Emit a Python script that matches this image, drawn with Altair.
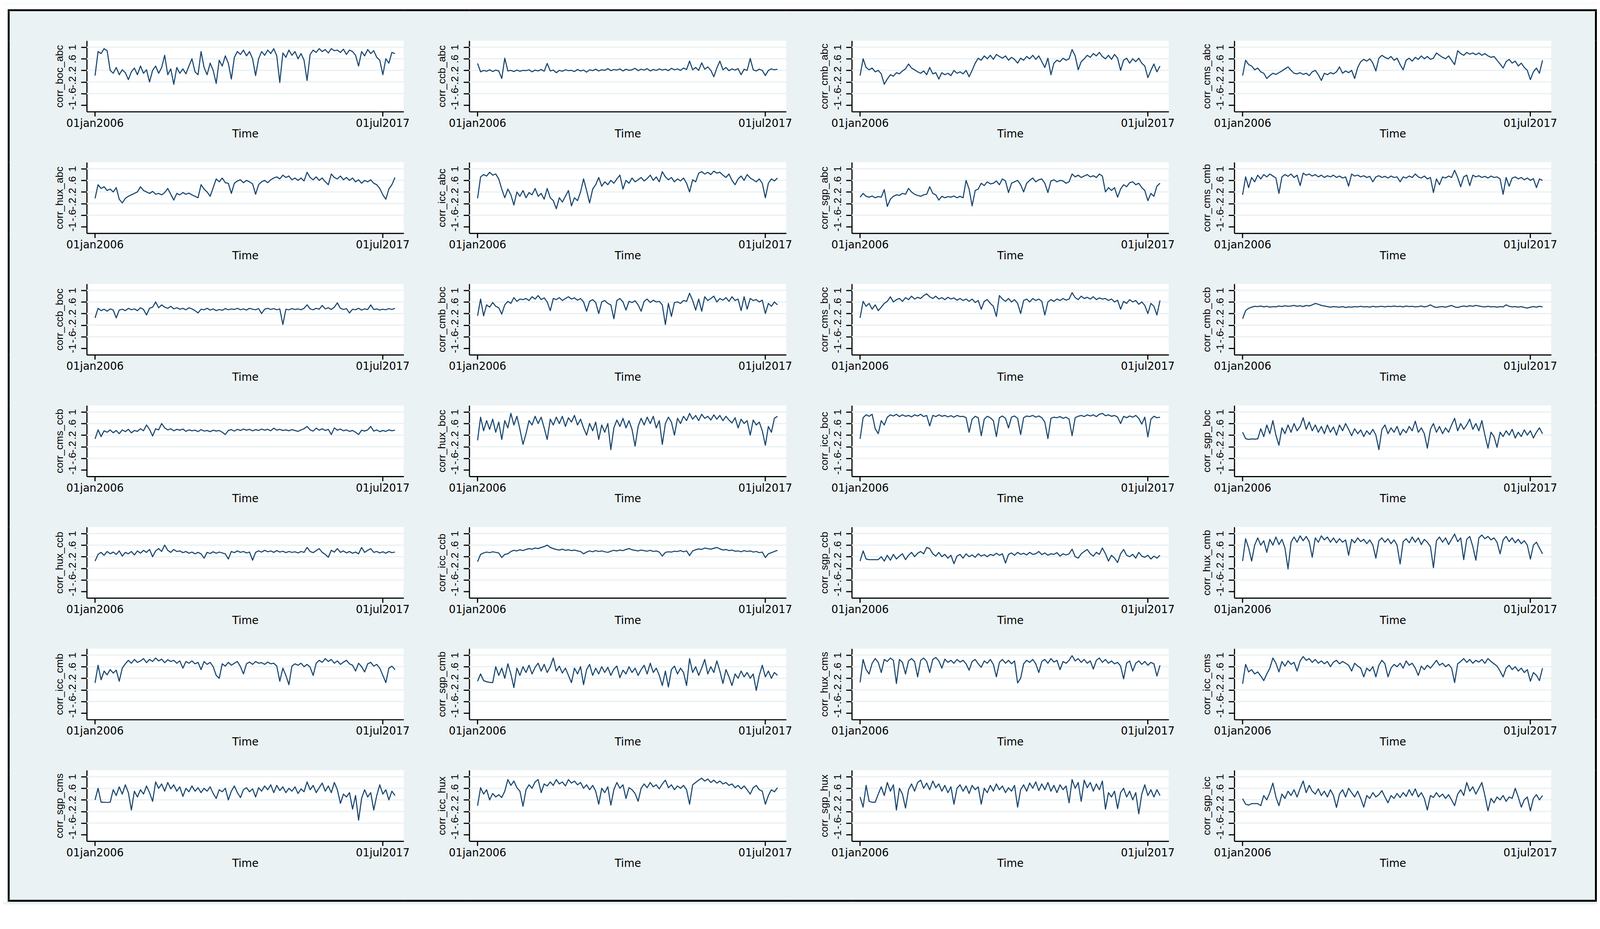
import altair as alt
import pandas as pd

BG = "#EAF2F3"
NAVY = "#1A476F"

# ---------------- data (100 points per series) ----------------
corr_boc_abc = [0.02, 0.85, 0.78, 0.95, 0.88, 0.2, 0.1, 0.3, 0.05, 0.22,
                0.12, -0.12, 0.15, 0.28, 0.05, 0.35, 0.1, 0.22, -0.2, 0.2,
                0.35, 0.1, 0.3, 0.72, 0.05, 0.25, -0.28, 0.3, 0.1, 0.25,
                0.08, 0.35, 0.6, 0.15, 0.05, 0.85, 0.3, 0.05, 0.45, 0.2,
                -0.25, 0.55, 0.35, 0.7, 0.45, -0.1, 0.65, 0.85, 0.75, 0.9,
                0.7, 0.85, 0.6, 0.02, 0.6, 0.85, 0.72, 0.9, 0.78, 0.95,
                0.7, -0.22, 0.8, 0.65, 0.9, 0.72, 0.85, 0.6, 0.78, 0.55,
                -0.15, 0.75, 0.9, 0.82, 0.95, 0.85, 0.92, 0.8, 0.95, 0.88,
                0.9, 0.82, 0.93, 0.75, 0.9, 0.85, 0.72, 0.35, 0.85, 0.7,
                0.92, 0.78, 0.88, 0.65, 0.55, 0.05, 0.6, 0.45, 0.82, 0.78]
corr_ccb_abc = [0.44, 0.15, 0.2, 0.17, 0.22, 0.16, 0.21, 0.18, -0.08, 0.62,
                0.18, 0.2, 0.16, 0.21, 0.17, 0.2, 0.19, 0.22, 0.15, 0.21,
                0.18, 0.23, 0.17, 0.44, 0.18, 0.21, 0.12, 0.2, 0.17, 0.22,
                0.19, 0.2, 0.16, 0.23, 0.18, 0.21, 0.14, 0.22, 0.19, 0.24,
                0.18, 0.22, 0.2, 0.26, 0.19, 0.23, 0.21, 0.25, 0.18, 0.24,
                0.2, 0.22, 0.27, 0.19, 0.24, 0.21, 0.26, 0.18, 0.23, 0.2,
                0.25, 0.21, 0.24, 0.19, 0.27, 0.22, 0.25, 0.2, 0.28, 0.23,
                0.52, 0.22, 0.3, 0.2, 0.46, 0.24, 0.32, 0.2, -0.02, 0.28,
                0.52, 0.22, 0.3, 0.19, 0.25, 0.21, 0.26, 0.05, 0.24, 0.2,
                0.61, 0.22, 0.18, 0.24, 0.2, 0.02, 0.2, 0.25, 0.22, 0.24]
corr_cmb_abc = [0.02, 0.6, 0.3, 0.22, 0.28, 0.15, 0.2, 0.08, -0.28, -0.1,
                0.05, 0.0, 0.12, 0.08, 0.18, 0.25, 0.42, 0.28, 0.22, 0.15,
                0.1, 0.18, 0.05, 0.3, 0.08, 0.12, -0.1, 0.12, 0.05, 0.1,
                0.02, 0.2, 0.1, 0.15, 0.08, 0.2, -0.02, 0.2, 0.45, 0.62,
                0.55, 0.7, 0.6, 0.72, 0.58, 0.75, 0.68, 0.62, 0.7, 0.55,
                0.65, 0.58, 0.45, 0.62, 0.55, 0.68, 0.6, 0.72, 0.58, 0.7,
                0.5, 0.3, 0.62, 0.05, 0.45, 0.55, 0.5, 0.62, 0.55, 0.6,
                0.92, 0.7, 0.22, 0.5, 0.6, 0.72, 0.65, 0.78, 0.7, 0.82,
                0.68, 0.6, 0.72, 0.58, 0.75, 0.62, 0.2, 0.55, 0.62, 0.45,
                0.6, 0.5, 0.62, 0.45, 0.35, -0.05, 0.2, 0.42, 0.15, 0.35]
corr_cms_abc = [0.02, 0.55, 0.4, 0.35, 0.22, 0.28, 0.15, 0.1, -0.08, 0.02,
                0.1, 0.06, 0.12, 0.18, 0.25, 0.32, 0.2, 0.1, 0.08, 0.12,
                0.06, 0.1, 0.02, 0.15, 0.2, 0.05, -0.15, 0.1, 0.05, 0.12,
                0.08, 0.15, 0.32, 0.1, 0.18, 0.12, 0.2, -0.08, 0.3, 0.5,
                0.58, 0.52, 0.6, 0.45, 0.18, 0.62, 0.72, 0.65, 0.6, 0.68,
                0.55, 0.62, 0.4, 0.22, 0.55, 0.62, 0.52, 0.65, 0.58, 0.7,
                0.6, 0.68, 0.58, 0.62, 0.8, 0.72, 0.65, 0.6, 0.7, 0.55,
                0.4, 0.88, 0.78, 0.72, 0.82, 0.76, 0.8, 0.74, 0.8, 0.72,
                0.78, 0.7, 0.65, 0.68, 0.55, 0.42, 0.28, 0.5, 0.58, 0.45,
                0.52, 0.35, 0.45, 0.3, 0.2, -0.12, 0.15, 0.28, 0.1, 0.55]
corr_hux_abc = [-0.02, 0.45, 0.32, 0.38, 0.25, 0.3, 0.2, 0.35, -0.05, -0.18,
                -0.02, 0.05, 0.1, 0.15, 0.2, 0.38, 0.25, 0.2, 0.15, 0.22,
                0.12, 0.15, 0.1, 0.18, 0.32, 0.12, -0.08, 0.15, 0.1, 0.18,
                0.12, 0.16, 0.1, 0.05, 0.0, 0.45, 0.3, 0.2, 0.05, 0.35,
                0.65, 0.55, 0.68, 0.52, 0.5, 0.15, 0.5, 0.58, 0.62, 0.52,
                0.6, 0.55, 0.48, 0.12, 0.45, 0.55, 0.6, 0.52, 0.62, 0.68,
                0.72, 0.65, 0.78, 0.7, 0.75, 0.62, 0.68, 0.6, 0.68, 0.58,
                0.88, 0.7, 0.62, 0.72, 0.6, 0.68, 0.55, 0.45, 0.82, 0.7,
                0.65, 0.75, 0.62, 0.7, 0.6, 0.68, 0.55, 0.62, 0.5, 0.6,
                0.55, 0.62, 0.5, 0.45, 0.32, 0.1, -0.05, 0.3, 0.45, 0.7]
corr_icc_abc = [-0.02, 0.72, 0.8, 0.75, 0.88, 0.78, 0.82, 0.65, 0.3, 0.0,
                0.3, 0.1, -0.25, 0.2, 0.05, 0.25, 0.0, 0.18, 0.1, 0.32,
                0.05, 0.15, -0.05, 0.32, 0.0, -0.1, -0.38, 0.0, -0.15, 0.05,
                0.25, -0.28, 0.0, -0.1, 0.2, 0.65, 0.25, -0.18, 0.3, 0.45,
                0.7, 0.4, 0.55, 0.45, 0.6, 0.5, 0.65, 0.78, 0.3, 0.6,
                0.5, 0.68, 0.55, 0.62, 0.7, 0.58, 0.66, 0.78, 0.6, 0.72,
                0.55, 0.9, 0.72, 0.62, 0.7, 0.55, 0.65, 0.58, 0.68, 0.5,
                0.2, 0.62, 0.55, 0.85, 0.9, 0.82, 0.88, 0.8, 0.92, 0.85,
                0.88, 0.78, 0.7, 0.82, 0.6, 0.45, 0.65, 0.75, 0.6, 0.8,
                0.68, 0.62, 0.55, 0.65, 0.5, 0.0, 0.5, 0.65, 0.58, 0.68]
corr_sgp_abc = [0.02, 0.15, 0.05, 0.02, 0.06, 0.0, 0.04, 0.02, 0.28, -0.3,
                -0.05, 0.05, 0.1, 0.08, 0.15, 0.12, 0.32, 0.2, 0.12, 0.08,
                0.05, 0.1, 0.12, 0.38, 0.15, 0.1, -0.08, 0.05, 0.0, 0.04,
                0.02, 0.06, 0.0, 0.05, 0.0, 0.6, 0.3, -0.28, 0.25, 0.3,
                0.5, 0.42, 0.55, 0.48, 0.5, 0.58, 0.45, 0.65, 0.58, 0.18,
                0.5, 0.55, 0.6, 0.45, 0.2, 0.5, 0.6, 0.68, 0.55, 0.62,
                0.65, 0.5, 0.18, 0.58, 0.62, 0.55, 0.6, 0.58, 0.5, 0.55,
                0.82, 0.72, 0.78, 0.7, 0.75, 0.8, 0.72, 0.76, 0.7, 0.82,
                0.75, 0.2, 0.35, 0.25, 0.35, 0.02, 0.3, 0.45, 0.38, 0.52,
                0.55, 0.45, 0.5, 0.35, 0.25, -0.1, 0.15, 0.05, 0.4, 0.5]
corr_cms_cmb = [0.1, 0.72, 0.35, 0.7, 0.55, 0.78, 0.65, 0.8, 0.72, 0.82,
                0.75, 0.68, 0.15, 0.72, 0.8, 0.74, 0.82, 0.7, 0.78, 0.42,
                0.85, 0.78, 0.82, 0.75, 0.8, 0.72, 0.78, 0.7, 0.76, 0.72,
                0.78, 0.7, 0.75, 0.68, 0.72, 0.4, 0.82, 0.75, 0.78, 0.72,
                0.76, 0.7, 0.74, 0.55, 0.72, 0.76, 0.7, 0.74, 0.68, 0.75,
                0.7, 0.72, 0.55, 0.72, 0.68, 0.75, 0.7, 0.82, 0.72, 0.68,
                0.75, 0.65, 0.7, 0.18, 0.65, 0.45, 0.72, 0.68, 0.75, 0.7,
                0.95, 0.7, 0.38, 0.72, 0.78, 0.42, 0.78, 0.72, 0.76, 0.7,
                0.74, 0.68, 0.75, 0.7, 0.72, 0.65, 0.12, 0.7, 0.4, 0.68,
                0.72, 0.65, 0.7, 0.62, 0.68, 0.6, 0.66, 0.35, 0.65, 0.6]
corr_ccb_boc = [0.05, 0.38, 0.3, 0.35, 0.28, 0.36, 0.32, 0.05, 0.32, 0.35,
                0.3, 0.38, 0.33, 0.36, 0.3, 0.4, 0.34, 0.15, 0.38, 0.42,
                0.6, 0.4, 0.5, 0.42, 0.38, 0.45, 0.36, 0.4, 0.35, 0.38,
                0.33, 0.4, 0.36, 0.3, 0.22, 0.35, 0.33, 0.38, 0.32, 0.36,
                0.3, 0.34, 0.31, 0.37, 0.33, 0.36, 0.34, 0.38, 0.33, 0.36,
                0.32, 0.38, 0.35, 0.33, 0.37, 0.2, 0.35, 0.38, 0.34, 0.37,
                0.33, 0.36, -0.18, 0.35, 0.33, 0.37, 0.34, 0.36, 0.33, 0.38,
                0.5, 0.36, 0.33, 0.38, 0.35, 0.48, 0.36, 0.4, 0.34, 0.42,
                0.57, 0.38, 0.34, 0.37, 0.22, 0.35, 0.33, 0.38, 0.32, 0.36,
                0.34, 0.5, 0.34, 0.36, 0.32, 0.35, 0.33, 0.37, 0.34, 0.38]
corr_cmb_boc = [0.12, 0.7, 0.12, 0.5, 0.42, 0.58, 0.45, 0.4, 0.18, 0.5,
                0.62, 0.55, 0.75, 0.62, 0.7, 0.68, 0.72, 0.65, 0.78, 0.7,
                0.82, 0.68, 0.74, 0.6, 0.3, 0.72, 0.68, 0.75, 0.65, 0.72,
                0.78, 0.7, 0.74, 0.66, 0.72, 0.6, 0.28, 0.62, 0.68, 0.58,
                0.2, 0.6, 0.65, 0.55, 0.5, 0.02, 0.65, 0.72, 0.6, 0.32,
                0.62, 0.58, 0.64, 0.5, 0.28, 0.62, 0.7, 0.58, 0.66, 0.6,
                0.62, 0.5, -0.18, 0.55, 0.1, 0.58, 0.6, 0.55, 0.65, 0.62,
                0.9, 0.65, 0.32, 0.7, 0.28, 0.78, 0.65, 0.72, 0.8, 0.6,
                0.72, 0.66, 0.75, 0.62, 0.78, 0.65, 0.7, 0.3, 0.78, 0.35,
                0.72, 0.65, 0.68, 0.6, 0.66, 0.2, 0.55, 0.45, 0.6, 0.5]
corr_cms_boc = [0.05, 0.62, 0.45, 0.55, 0.35, 0.5, 0.3, 0.42, 0.55, 0.62,
                0.78, 0.6, 0.68, 0.72, 0.62, 0.75, 0.68, 0.8, 0.7, 0.76,
                0.72, 0.82, 0.88, 0.78, 0.72, 0.8, 0.7, 0.75, 0.68, 0.76,
                0.7, 0.74, 0.66, 0.72, 0.65, 0.7, 0.62, 0.7, 0.58, 0.65,
                0.35, 0.62, 0.68, 0.55, 0.45, 0.1, 0.82, 0.7, 0.62, 0.72,
                0.6, 0.68, 0.55, 0.2, 0.65, 0.7, 0.6, 0.72, 0.65, 0.7,
                0.62, 0.15, 0.6, 0.68, 0.62, 0.7, 0.65, 0.72, 0.66, 0.7,
                0.92, 0.75, 0.68, 0.8, 0.72, 0.76, 0.7, 0.78, 0.68, 0.74,
                0.7, 0.72, 0.65, 0.7, 0.6, 0.66, 0.35, 0.62, 0.55, 0.68,
                0.6, 0.65, 0.52, 0.6, 0.48, 0.2, 0.55, 0.45, 0.15, 0.65]
corr_cmb_ccb = [0.02, 0.3, 0.38, 0.42, 0.45, 0.44, 0.46, 0.43, 0.45, 0.42,
                0.44, 0.43, 0.46, 0.44, 0.47, 0.45, 0.46, 0.48, 0.45, 0.47,
                0.44, 0.48, 0.46, 0.5, 0.55, 0.52, 0.48, 0.46, 0.44, 0.42,
                0.44, 0.43, 0.42, 0.44, 0.41, 0.43, 0.42, 0.44, 0.43, 0.45,
                0.43, 0.44, 0.42, 0.45, 0.43, 0.44, 0.45, 0.43, 0.45, 0.44,
                0.46, 0.44, 0.45, 0.43, 0.46, 0.44, 0.45, 0.43, 0.44, 0.46,
                0.43, 0.45, 0.5, 0.44, 0.41, 0.43, 0.44, 0.42, 0.45, 0.48,
                0.43, 0.41, 0.44, 0.46, 0.44, 0.47, 0.45, 0.48, 0.46, 0.44,
                0.43, 0.45, 0.43, 0.44, 0.42, 0.44, 0.43, 0.5, 0.45, 0.43,
                0.44, 0.42, 0.44, 0.41, 0.39, 0.42, 0.44, 0.42, 0.45, 0.43]
corr_cms_ccb = [0.07, 0.38, 0.15, 0.35, 0.3, 0.38, 0.28, 0.36, 0.25, 0.38,
                0.32, 0.4, 0.28, 0.36, 0.33, 0.42, 0.35, 0.55, 0.4, 0.17,
                0.42, 0.38, 0.6, 0.45, 0.38, 0.42, 0.35, 0.4, 0.37, 0.41,
                0.33, 0.38, 0.35, 0.37, 0.32, 0.39, 0.34, 0.36, 0.32, 0.37,
                0.34, 0.36, 0.3, 0.22, 0.36, 0.39, 0.34, 0.4, 0.36, 0.41,
                0.37, 0.4, 0.35, 0.39, 0.36, 0.41, 0.37, 0.4, 0.35, 0.44,
                0.37, 0.4, 0.36, 0.38, 0.35, 0.39, 0.36, 0.33, 0.38, 0.42,
                0.5, 0.38, 0.34, 0.44, 0.37, 0.42, 0.36, 0.4, 0.22, 0.45,
                0.37, 0.41, 0.35, 0.38, 0.33, 0.36, 0.3, 0.22, 0.37, 0.34,
                0.38, 0.5, 0.34, 0.38, 0.32, 0.36, 0.33, 0.38, 0.35, 0.37]
corr_hux_boc = [0.02, 0.82, 0.35, 0.7, 0.4, 0.75, 0.3, 0.65, 0.05, 0.7,
                0.45, 0.95, 0.55, 0.85, 0.4, -0.12, 0.25, 0.7, 0.55, 0.85,
                0.6, 0.82, 0.45, 0.05, 0.75, 0.55, 0.82, 0.6, 0.85, 0.5,
                0.8, 0.65, 0.88, 0.55, 0.75, 0.45, 0.2, 0.6, 0.35, 0.65,
                0.05, 0.55, 0.3, 0.6, -0.3, 0.45, 0.72, 0.5, 0.78, 0.45,
                0.7, 0.4, -0.18, 0.5, 0.78, 0.55, 0.82, 0.6, 0.85, 0.45,
                0.7, -0.12, 0.6, 0.82, 0.65, 0.2, 0.78, 0.6, 0.85, 0.7,
                0.95, 0.75, 0.88, 0.7, 0.92, 0.78, 0.85, 0.72, 0.9, 0.75,
                0.88, 0.7, 0.85, 0.72, 0.62, 0.8, 0.45, 0.75, 0.6, 0.7,
                0.2, 0.72, 0.55, 0.65, 0.35, -0.15, 0.5, 0.3, 0.78, 0.85]
corr_icc_boc = [0.07, 0.8, 0.9, 0.85, 0.92, 0.42, 0.25, 0.7, 0.55, 0.82,
                0.9, 0.86, 0.92, 0.84, 0.9, 0.85, 0.88, 0.83, 0.9, 0.86,
                0.92, 0.84, 0.88, 0.52, 0.88, 0.84, 0.9, 0.85, 0.88, 0.83,
                0.87, 0.82, 0.88, 0.84, 0.85, 0.8, 0.3, 0.75, 0.85, 0.8,
                0.18, 0.75, 0.85, 0.8, 0.7, 0.15, 0.8, 0.86, 0.78, 0.45,
                0.82, 0.86, 0.78, 0.22, 0.8, 0.86, 0.84, 0.88, 0.82, 0.86,
                0.8, 0.65, 0.08, 0.78, 0.82, 0.8, 0.84, 0.78, 0.82, 0.75,
                0.18, 0.8, 0.85, 0.88, 0.84, 0.9, 0.86, 0.9, 0.84, 0.92,
                0.95, 0.87, 0.9, 0.85, 0.88, 0.82, 0.6, 0.85, 0.8, 0.86,
                0.82, 0.88, 0.78, 0.58, 0.82, 0.14, 0.75, 0.85, 0.8, 0.82]
corr_sgp_boc = [0.3, 0.08, 0.05, 0.07, 0.06, 0.07, 0.42, 0.15, 0.55, 0.25,
                0.7, 0.2, -0.15, 0.45, 0.25, 0.55, 0.3, 0.6, 0.35, 0.5,
                0.8, 0.4, 0.65, 0.35, 0.55, 0.3, 0.5, 0.25, 0.55, 0.3,
                0.48, 0.2, 0.55, 0.35, 0.6, 0.4, 0.18, 0.42, 0.25, 0.38,
                0.15, 0.35, 0.22, 0.4, 0.2, -0.3, 0.4, 0.55, 0.25, 0.45,
                0.3, 0.5, 0.2, 0.4, 0.28, 0.5, 0.35, 0.68, 0.3, 0.45,
                0.25, -0.25, 0.4, 0.6, 0.3, 0.5, 0.25, 0.45, 0.3, 0.55,
                0.78, 0.35, 0.6, 0.4, 0.55, 0.75, 0.4, 0.6, 0.35, 0.7,
                0.2, -0.25, 0.3, 0.15, -0.22, 0.3, 0.15, 0.35, 0.2, 0.4,
                0.1, 0.3, 0.15, 0.38, 0.2, 0.35, 0.1, 0.3, 0.45, 0.25]
corr_hux_ccb = [0.05, 0.28, 0.35, 0.25, 0.38, 0.3, 0.36, 0.28, 0.4, 0.22,
                0.35, 0.3, 0.38, 0.26, 0.4, 0.32, 0.42, 0.35, 0.45, 0.2,
                0.4, 0.48, 0.38, 0.6, 0.42, 0.35, 0.45, 0.38, 0.4, 0.34,
                0.38, 0.32, 0.36, 0.3, 0.35, 0.3, 0.15, 0.35, 0.31, 0.37,
                0.32, 0.36, 0.33, 0.3, 0.12, 0.38, 0.34, 0.4, 0.35, 0.38,
                0.33, 0.36, 0.08, 0.35, 0.4, 0.36, 0.42, 0.37, 0.4, 0.35,
                0.41, 0.36, 0.39, 0.34, 0.38, 0.35, 0.37, 0.33, 0.38, 0.35,
                0.52, 0.38, 0.34, 0.41, 0.48, 0.35, 0.28, 0.18, 0.42, 0.36,
                0.48, 0.35, 0.4, 0.33, 0.38, 0.32, 0.36, 0.3, 0.52, 0.35,
                0.42, 0.48, 0.35, 0.38, 0.33, 0.37, 0.32, 0.38, 0.34, 0.36]
corr_icc_ccb = [0.03, 0.28, 0.33, 0.36, 0.34, 0.37, 0.35, 0.33, 0.17, 0.28,
                0.3, 0.38, 0.42, 0.4, 0.44, 0.41, 0.45, 0.48, 0.46, 0.5,
                0.48, 0.52, 0.55, 0.6, 0.52, 0.48, 0.45, 0.43, 0.46, 0.42,
                0.44, 0.41, 0.43, 0.4, 0.38, 0.3, 0.36, 0.4, 0.37, 0.41,
                0.38, 0.4, 0.37, 0.35, 0.39, 0.42, 0.4, 0.43, 0.41, 0.45,
                0.48, 0.44, 0.42, 0.4, 0.43, 0.41, 0.39, 0.42, 0.38, 0.4,
                0.36, 0.22, 0.35, 0.37, 0.36, 0.39, 0.38, 0.41, 0.37, 0.4,
                0.24, 0.4, 0.44, 0.47, 0.45, 0.5, 0.48, 0.46, 0.49, 0.52,
                0.47, 0.43, 0.45, 0.41, 0.43, 0.39, 0.4, 0.37, 0.41, 0.38,
                0.4, 0.36, 0.38, 0.34, 0.36, 0.17, 0.3, 0.34, 0.38, 0.42]
corr_sgp_ccb = [0.05, 0.4, 0.12, 0.1, 0.1, 0.1, 0.1, 0.2, 0.05, 0.25,
                0.08, 0.28, 0.12, 0.22, 0.3, 0.1, 0.25, 0.35, 0.2, 0.32,
                0.38, 0.3, 0.52, 0.48, 0.3, 0.22, 0.35, 0.2, 0.28, 0.15,
                0.25, -0.04, 0.22, 0.28, 0.15, 0.3, 0.2, 0.26, 0.18, 0.3,
                0.22, 0.27, 0.2, 0.28, 0.24, 0.32, 0.25, 0.3, -0.02, 0.28,
                0.33, 0.25, 0.35, 0.28, 0.32, 0.26, 0.35, 0.28, 0.3, 0.38,
                0.27, 0.33, 0.25, 0.3, 0.28, 0.34, 0.22, 0.3, 0.26, 0.3,
                0.46, 0.2, 0.15, 0.3, 0.38, 0.45, 0.3, 0.22, 0.35, 0.28,
                0.5, 0.3, 0.05, 0.25, 0.15, 0.0, 0.3, 0.45, 0.25, 0.2,
                0.28, 0.15, 0.35, 0.22, 0.18, 0.25, 0.12, 0.22, 0.15, 0.25]
corr_hux_cmb = [0.05, 0.82, 0.5, 0.05, 0.6, 0.85, 0.6, 0.75, 0.35, 0.8,
                0.6, 0.88, 0.62, 0.8, 0.5, -0.22, 0.7, 0.88, 0.7, 0.92,
                0.75, 0.9, 0.72, 0.18, 0.85, 0.7, 0.92, 0.78, 0.88, 0.7,
                0.85, 0.68, 0.82, 0.7, 0.78, 0.25, 0.8, 0.68, 0.85, 0.72,
                0.8, 0.65, 0.78, 0.6, 0.15, 0.75, 0.85, 0.7, 0.82, 0.65,
                0.78, 0.6, -0.05, 0.72, 0.82, 0.68, 0.88, 0.7, 0.85, 0.62,
                0.8, 0.7, 0.55, -0.18, 0.75, 0.88, 0.7, 0.85, 0.62, 0.8,
                0.98, 0.72, 0.85, 0.1, 0.8, 0.9, 0.55, 0.08, 0.85, 0.95,
                0.82, 0.9, 0.78, 0.85, 0.7, 0.3, 0.78, 0.9, 0.72, 0.85,
                0.68, 0.8, 0.65, 0.75, 0.6, 0.12, 0.6, 0.7, 0.5, 0.3]
corr_icc_cmb = [0.04, 0.65, 0.15, 0.45, 0.32, 0.5, 0.38, 0.48, 0.1, 0.55,
                0.7, 0.82, 0.72, 0.85, 0.75, 0.8, 0.88, 0.74, 0.85, 0.78,
                0.9, 0.8, 0.86, 0.74, 0.84, 0.78, 0.82, 0.72, 0.8, 0.55,
                0.78, 0.72, 0.8, 0.7, 0.75, 0.5, 0.78, 0.68, 0.75, 0.6,
                0.3, 0.2, 0.7, 0.62, 0.75, 0.65, 0.72, 0.78, 0.6, 0.35,
                0.7, 0.76, 0.68, 0.78, 0.72, 0.74, 0.68, 0.76, 0.7, 0.72,
                0.62, 0.1, 0.55, 0.3, -0.02, 0.62, 0.7, 0.65, 0.72, 0.6,
                0.68, 0.58, 0.3, 0.72, 0.82, 0.75, 0.88, 0.78, 0.85, 0.72,
                0.8, 0.68, 0.76, 0.82, 0.7, 0.65, 0.45, 0.72, 0.6, 0.42,
                0.7, 0.75, 0.62, 0.68, 0.55, 0.3, 0.05, 0.55, 0.62, 0.5]
corr_sgp_cmb = [0.1, 0.35, 0.12, 0.08, 0.06, 0.05, 0.6, 0.3, 0.55, 0.2,
                0.7, 0.35, -0.12, 0.55, 0.3, 0.6, 0.4, 0.65, 0.35, 0.58,
                0.72, 0.45, 0.68, 0.4, 0.6, 0.9, 0.45, 0.62, 0.38, 0.55,
                0.3, 0.05, 0.55, 0.35, 0.6, -0.02, 0.5, 0.68, 0.3, 0.55,
                0.35, 0.6, 0.4, 0.58, 0.3, 0.52, 0.62, 0.22, 0.48, 0.35,
                0.6, 0.4, 0.55, 0.3, 0.5, 0.65, 0.35, 0.72, 0.4, 0.55,
                0.3, -0.05, 0.45, -0.1, 0.5, 0.62, 0.35, 0.55, 0.4, -0.05,
                0.88, 0.4, 0.6, 0.3, 0.55, 0.85, 0.35, 0.6, 0.4, 0.8,
                0.45, 0.02, 0.5, 0.25, -0.05, 0.35, 0.2, 0.45, 0.25, 0.4,
                0.2, 0.35, -0.22, 0.3, 0.65, 0.25, 0.45, 0.2, 0.4, 0.3]
corr_hux_cms = [0.06, 0.85, 0.5, 0.35, 0.72, 0.88, 0.75, 0.4, 0.85, 0.78,
                0.9, 0.82, 0.02, 0.85, 0.75, 0.35, 0.8, 0.88, 0.78, 0.25,
                0.82, 0.9, 0.78, 0.4, 0.85, 0.92, 0.8, 0.55, 0.86, 0.75,
                0.82, 0.72, 0.85, 0.76, 0.82, 0.7, 0.48, 0.78, 0.85, 0.7,
                0.58, 0.8, 0.72, 0.85, 0.68, 0.25, 0.75, 0.85, 0.72, 0.82,
                0.7, 0.8, 0.04, 0.2, 0.7, 0.82, 0.75, 0.85, 0.7, 0.4,
                0.78, 0.85, 0.72, 0.88, 0.76, 0.82, 0.5, 0.78, 0.72, 0.82,
                0.98, 0.8, 0.88, 0.75, 0.85, 0.72, 0.8, 0.52, 0.82, 0.9,
                0.75, 0.85, 0.72, 0.8, 0.7, 0.75, 0.62, 0.18, 0.72, 0.8,
                0.45, 0.72, 0.8, 0.68, 0.78, 0.65, 0.75, 0.7, 0.28, 0.65]
corr_icc_cms = [0.01, 0.68, 0.42, 0.5, 0.35, 0.42, 0.28, 0.12, 0.35, 0.55,
                0.9, 0.72, 0.42, 0.78, 0.62, 0.8, 0.68, 0.75, 0.45, 0.8,
                0.95, 0.82, 0.88, 0.75, 0.85, 0.72, 0.8, 0.7, 0.78, 0.6,
                0.76, 0.82, 0.7, 0.78, 0.72, 0.65, 0.45, 0.72, 0.62, 0.55,
                0.25, 0.55, 0.45, 0.6, 0.25, 0.65, 0.82, 0.7, 0.25, 0.55,
                0.68, 0.6, 0.72, 0.55, 0.8, 0.65, 0.72, 0.55, 0.3, 0.62,
                0.5, 0.65, 0.55, 0.68, 0.82, 0.65, 0.72, 0.6, 0.68, 0.55,
                0.05, 0.7, 0.78, 0.88, 0.75, 0.85, 0.72, 0.82, 0.76, 0.85,
                0.72, 0.88, 0.78, 0.7, 0.62, 0.45, 0.25, 0.55, 0.65, 0.5,
                0.6, 0.45, 0.55, 0.4, 0.5, 0.1, 0.4, 0.3, 0.12, 0.55]
corr_sgp_cms = [0.2, 0.6, 0.12, 0.12, 0.11, 0.12, 0.55, 0.35, 0.65, 0.4,
                0.72, 0.45, -0.15, 0.5, 0.3, 0.55, 0.4, 0.68, 0.45, 0.15,
                0.82, 0.6, 0.75, 0.5, 0.8, 0.58, 0.72, 0.5, 0.65, 0.32,
                0.6, 0.48, 0.68, 0.5, 0.62, 0.45, 0.6, 0.5, 0.65, 0.42,
                0.25, 0.55, 0.48, 0.6, 0.2, 0.5, 0.68, 0.45, 0.28, 0.55,
                0.62, 0.48, 0.58, 0.3, 0.62, 0.5, 0.68, 0.55, 0.72, 0.45,
                0.7, 0.52, 0.65, 0.45, 0.6, 0.5, 0.65, 0.42, 0.58, 0.48,
                0.82, 0.55, 0.7, 0.45, 0.62, 0.78, 0.5, 0.68, 0.45, 0.8,
                0.55, 0.08, 0.4, 0.3, 0.45, -0.12, 0.35, -0.5, 0.25, 0.55,
                0.3, 0.45, -0.15, 0.35, 0.72, 0.4, 0.55, 0.2, 0.5, 0.35]
corr_icc_hux = [0.0, 0.62, 0.4, 0.55, 0.2, 0.42, 0.3, 0.38, 0.28, 0.5,
                0.9, 0.7, 0.85, 0.62, 0.5, -0.02, 0.55, 0.72, 0.6, 0.82,
                0.9, 0.45, 0.75, 0.68, 0.82, 0.7, 0.9, 0.75, 0.82, 0.68,
                0.9, 0.78, 0.85, 0.72, 0.8, 0.6, 0.72, 0.55, 0.7, 0.5,
                0.05, 0.6, 0.45, 0.65, 0.02, 0.55, 0.8, 0.6, 0.72, 0.25,
                0.62, 0.55, 0.42, 0.15, 0.6, 0.75, 0.62, 0.8, 0.65, 0.72,
                0.58, 0.75, 0.88, 0.62, 0.72, 0.55, 0.68, 0.6, 0.7, 0.55,
                0.05, 0.72, 0.8, 0.88, 0.95, 0.85, 0.92, 0.8, 0.88, 0.78,
                0.85, 0.75, 0.8, 0.7, 0.75, 0.62, 0.7, 0.58, 0.68, 0.55,
                0.4, 0.62, 0.7, 0.55, 0.5, 0.05, 0.35, 0.55, 0.48, 0.62]
corr_sgp_hux = [0.3, -0.05, 0.7, 0.15, 0.12, 0.12, 0.4, 0.65, 0.35, 0.8,
                0.5, 0.72, -0.15, 0.6, 0.4, -0.08, 0.55, 0.75, 0.5, 0.8,
                0.88, 0.6, 0.78, 0.55, 0.85, 0.62, 0.75, 0.5, 0.7, 0.45,
                0.65, 0.05, 0.6, 0.72, 0.5, 0.68, 0.42, 0.7, 0.55, 0.65,
                0.05, 0.6, 0.45, 0.7, 0.5, 0.75, 0.55, 0.68, 0.45, 0.62,
                0.5, 0.7, -0.05, 0.55, 0.72, 0.5, 0.78, 0.6, 0.82, 0.52,
                0.75, 0.55, 0.8, 0.5, 0.7, 0.45, 0.72, 0.55, 0.68, 0.1,
                0.9, 0.6, 0.8, 0.15, 0.88, 0.62, 0.8, 0.5, 0.75, 0.55,
                0.85, -0.12, 0.45, 0.3, 0.5, -0.1, 0.45, 0.6, 0.3, 0.5,
                0.2, 0.45, -0.28, 0.4, 0.72, 0.35, 0.55, 0.3, 0.55, 0.35]
corr_sgp_icc = [0.24, 0.05, 0.02, 0.07, 0.07, 0.07, 0.0, 0.35, 0.2, 0.45,
                0.78, 0.3, 0.0, 0.4, 0.25, 0.5, 0.35, 0.55, 0.3, 0.6,
                0.85, 0.45, 0.7, 0.5, 0.4, 0.58, 0.35, 0.5, 0.3, 0.55,
                0.35, -0.06, 0.4, 0.55, 0.3, 0.6, 0.45, 0.3, 0.5, 0.25,
                -0.05, 0.35, 0.25, 0.45, 0.3, 0.38, 0.52, 0.3, 0.1, 0.35,
                0.25, 0.42, 0.28, 0.45, 0.32, 0.55, 0.35, 0.58, 0.3, 0.45,
                0.25, -0.15, 0.35, 0.28, 0.45, 0.3, 0.4, 0.25, 0.38, 0.2,
                0.0, 0.4, 0.55, 0.35, 0.8, 0.5, 0.65, 0.4, 0.6, 0.8,
                0.35, -0.18, 0.25, 0.1, 0.3, 0.2, 0.35, 0.15, 0.3, 0.25,
                0.6, 0.3, -0.05, 0.2, 0.3, -0.18, 0.25, 0.38, 0.2, 0.35]

panel_names = ["corr_boc_abc", "corr_ccb_abc", "corr_cmb_abc", "corr_cms_abc",
               "corr_hux_abc", "corr_icc_abc", "corr_sgp_abc", "corr_cms_cmb",
               "corr_ccb_boc", "corr_cmb_boc", "corr_cms_boc", "corr_cmb_ccb",
               "corr_cms_ccb", "corr_hux_boc", "corr_icc_boc", "corr_sgp_boc",
               "corr_hux_ccb", "corr_icc_ccb", "corr_sgp_ccb", "corr_hux_cmb",
               "corr_icc_cmb", "corr_sgp_cmb", "corr_hux_cms", "corr_icc_cms",
               "corr_sgp_cms", "corr_icc_hux", "corr_sgp_hux", "corr_sgp_icc"]
panel_values = [corr_boc_abc, corr_ccb_abc, corr_cmb_abc, corr_cms_abc,
                corr_hux_abc, corr_icc_abc, corr_sgp_abc, corr_cms_cmb,
                corr_ccb_boc, corr_cmb_boc, corr_cms_boc, corr_cmb_ccb,
                corr_cms_ccb, corr_hux_boc, corr_icc_boc, corr_sgp_boc,
                corr_hux_ccb, corr_icc_ccb, corr_sgp_ccb, corr_hux_cmb,
                corr_icc_cmb, corr_sgp_cmb, corr_hux_cms, corr_icc_cms,
                corr_sgp_cms, corr_icc_hux, corr_sgp_hux, corr_sgp_icc]

first_obs, last_obs = "2006-01-04", "2017-12-29"
y_tick_values = [-1, -0.6, -0.2, 0.2, 0.6, 1]
grid_levels = [1, 0.6, 0.2, -0.2, -0.6]
x_tick_dates = [(2006, 1, 1), (2017, 7, 1)]
x_domain_dates = [(2005, 9, 5), (2018, 5, 5)]

# ---------------- tables ----------------
records = []
for name, vals in zip(panel_names, panel_values):
    dates = pd.date_range(first_obs, last_obs, periods=len(vals))
    for d, v in zip(dates, vals):
        records.append({"s": name, "date": d.strftime("%Y-%m-%d"), "v": v})
df = pd.DataFrame(records)
grid_df = pd.DataFrame({"g": grid_levels})
dummy = pd.DataFrame({"z": [0]})


def dt(t):
    return alt.DateTime(year=t[0], month=t[1], date=t[2], utc=True)


Y_SCALE = alt.Scale(domain=[-1.225, 1.225], nice=False, zero=False)
X_SCALE = alt.Scale(type="utc", domain=[dt(x_domain_dates[0]), dt(x_domain_dates[1])], nice=False)
PW, PH = 826, 185

y_label_expr = ("datum.value > 0.9 ? '1' : datum.value > 0.5 ? '.6' : datum.value > 0 ? '.2' : "
                "datum.value > -0.5 ? '-.2' : datum.value > -0.9 ? '-.6' : '-1'")


def y_axis(name):
    return alt.Axis(
        values=y_tick_values, labelExpr=y_label_expr, title=name, grid=False,
        domainColor="black", domainWidth=3, tickColor="black", tickWidth=3, tickSize=15,
        labelFont="Liberation Sans", labelFontSize=27, labelColor="black",
        labelAngle=270, labelAlign="center", labelBaseline="alphabetic", labelPadding=14,
        labelOverlap=False, labelFlush=False,
        titleFont="Liberation Sans", titleFontSize=27, titleFontWeight="normal", titleColor="black",
        titleAngle=270, titleAlign="center", titleBaseline="alphabetic", titlePadding=12,
    )


def panel(name):
    yax = y_axis(name)
    grid = alt.Chart(grid_df).mark_rule(color=BG, strokeWidth=3.5).encode(
        y=alt.Y("g:Q", scale=Y_SCALE, axis=yax)
    )
    line = alt.Chart(df).transform_filter(alt.datum.s == name).mark_line(
        color=NAVY, strokeWidth=2.8, strokeJoin="round", clip=True
    ).encode(
        x=alt.X("date:T", scale=X_SCALE, axis=alt.Axis(
            values=[dt(t) for t in x_tick_dates],
            labelExpr="lower(utcFormat(datum.value, '%d%b%Y'))",
            title="Time", grid=False,
            domainColor="black", domainWidth=3, tickColor="black", tickWidth=3, tickSize=12,
            labelFont="DejaVu Sans", labelFontSize=28, labelColor="black", labelPadding=5,
            labelFlush=False, labelOverlap=False,
            titleFont="DejaVu Sans", titleFontSize=28, titleFontWeight="normal", titleColor="black",
            titlePadding=0,
        )),
        y=alt.Y("v:Q", scale=Y_SCALE, axis=yax),
    )
    return alt.layer(grid, line).properties(
        width=PW, height=PH, view=alt.ViewBackground(fill="white", strokeWidth=0)
    )


def block(w, h, fill=None):
    c = alt.Chart(dummy).mark_rule(opacity=0, strokeWidth=0.5).encode(
        x=alt.value(2), x2=alt.value(2), y=alt.value(2), y2=alt.value(2)
    )
    if fill is None:
        view = alt.ViewBackground(strokeWidth=0)
    else:
        view = alt.ViewBackground(fill=fill, strokeWidth=0)
    return c.properties(width=w, height=h, view=view)


# ---------------- page grid (flush layout, integer sizes) ----------------
GAP_C, GAP_R = 171, 132
cols = [("white", 12), ("black", 5), ("sp", 201)]
for k in range(4):
    cols.append(("panel", PW))
    if k < 3:
        cols.append(("sp", GAP_C))
cols += [("sp", 114), ("black", 5)]

rows = [("white", 15), ("black", 5), ("sp", 77)]
for k in range(7):
    rows.append(("panel", PH))
    if k < 6:
        rows.append(("sp", GAP_R))
rows += [("sp", 153), ("black", 5)]

cells = []
pr = 0
for rkind, rh in rows:
    pc = 0
    for ckind, cw in cols:
        if rkind == "white" or ckind == "white":
            cells.append(block(cw, rh, "white"))
        elif rkind == "black" or ckind == "black":
            cells.append(block(cw, rh, "black"))
        elif rkind == "panel" and ckind == "panel":
            cells.append(panel(panel_names[pr * 4 + pc]))
            pc += 1
        else:
            cells.append(block(cw, rh))
    if rkind == "panel":
        pr += 1

# the renderer reserves empty bands above and below the grid; negative padding trims them
chart = alt.concat(
    *cells, columns=len(cols), spacing=0, bounds="flush", align="each"
).properties(
    background=BG, padding={"top": -20, "left": 0, "right": 0, "bottom": -14}
).configure_view(strokeWidth=0)

chart.save("out.html", embed_options={"renderer": "svg", "actions": False})
